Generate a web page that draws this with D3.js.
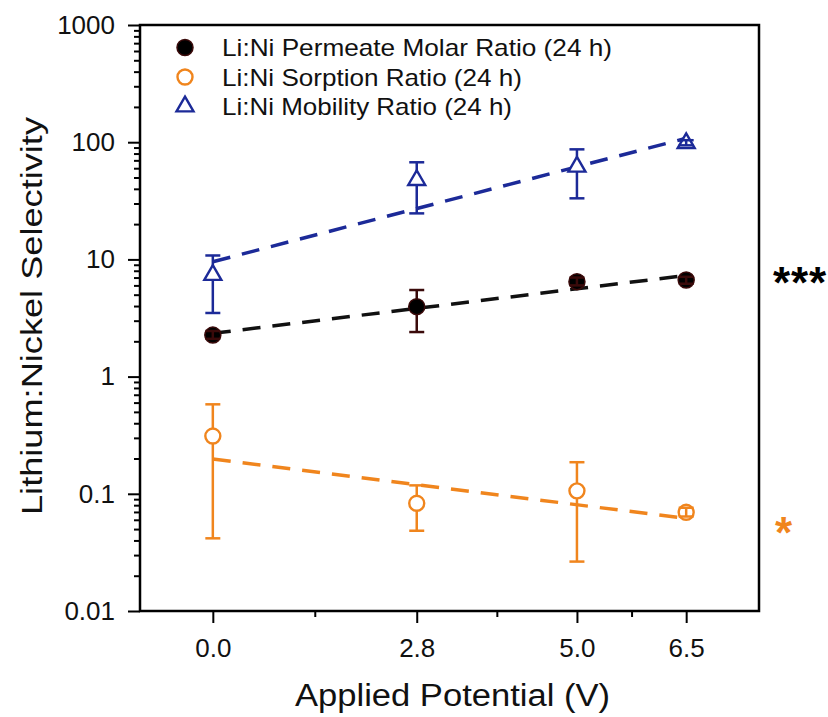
<!DOCTYPE html>
<html>
    <head>
        <title>Li:Ni Selectivity</title>
        <meta charset="UTF-8">
        <script type="text/javascript" src="https://cdn.jsdelivr.net/npm/d3@7"></script>
        <style type="text/css">
            body { margin: 0; background: #fff; }
            text { font-family: "Liberation Sans", Arial, sans-serif; }
        </style>
    </head>
    <body>
        <div id="chart"></div>

        <script type="text/javascript">

            var svgW = 828;
            var svgH = 717;

            // applied potential (V)
            var potentials = [0.0, 2.8, 5.0, 6.5];

            // Li:Ni permeate molar ratio (24 h)
            var permeate = [2.26, 3.95, 6.46, 6.67];
            var permeateLo = [2.1, 2.40, 6.0, 6.2];
            var permeateHi = [2.45, 5.48, 7.0, 7.1];

            // Li:Ni sorption ratio (24 h)
            var sorption = [0.311, 0.083, 0.106, 0.0695];
            var sorptionLo = [0.0417, 0.0484, 0.0264, 0.064];
            var sorptionHi = [0.58, 0.118, 0.186, 0.076];

            // Li:Ni mobility ratio (24 h)
            var mobility = [7.36, 47.5, 61.8, 98];
            var mobilityLo = [3.49, 24.7, 33.2, 94];
            var mobilityHi = [10.8, 67.4, 86.9, 104];

            // fitted trend lines, value at 0 V and at 6.5 V
            var fitX = [0.0, 6.5];
            var permeateFit = [2.34, 7.3];
            var sorptionFit = [0.198, 0.0616];
            var mobilityFit = [9.55, 108];

            var xMajorTicks = [0.0, 2.8, 5.0, 6.5];
            var xMinorTicks = [1.4, 3.9, 5.75];
            var yMajorTicks = [0.01, 0.1, 1, 10, 100, 1000];
            var yTickLabels = ["0.01", "0.1", "1", "10", "100", "1000"];

            var legendLabels = ["Li:Ni Permeate Molar Ratio (24 h)",
                "Li:Ni Sorption Ratio (24 h)",
                "Li:Ni Mobility Ratio (24 h)"];

            var black = "#000000", maroon = "#3a0a0a";
            var orange = "#f0851d", blue = "#1c2a98";

            // plot box (note: "top" is reserved on window)
            var pLeft = 140, pRight = 759, pTop = 25, pBottom = 611;

            var x = d3.scaleLinear().domain([-1, 7.5]).range([pLeft, pRight]);
            var y = d3.scaleLog().domain([0.01, 1000]).range([pBottom, pTop]);

            var svg = d3.select("#chart").append("svg")
                    .attr("width", svgW)
                    .attr("height", svgH)
                    .style("background", "#fff");

            ///////////////////////////////////////////////////////////////
            // axes
            ///////////////////////////////////////////////////////////////
            var yMinor = [];
            for (var e = -2; e < 3; e++) {
                for (var m = 2; m < 10; m++) {
                    yMinor.push(m * Math.pow(10, e));
                }
            }

            svg.append("g")
                    .attr("transform", "translate(" + pLeft + ",0)")
                    .call(d3.axisLeft(y).tickValues(yMinor).tickSize(6).tickFormat(""))
                    .call(function (g) { g.select(".domain").remove(); });

            svg.append("g")
                    .attr("transform", "translate(" + pLeft + ",0)")
                    .call(d3.axisLeft(y).tickValues(yMajorTicks).tickSize(12).tickPadding(13)
                            .tickFormat(function (d, i) { return yTickLabels[i]; }))
                    .call(function (g) { g.select(".domain").remove(); });

            svg.append("g")
                    .attr("transform", "translate(0," + pBottom + ")")
                    .call(d3.axisBottom(x).tickValues(xMinorTicks).tickSize(6).tickFormat(""))
                    .call(function (g) { g.select(".domain").remove(); });

            svg.append("g")
                    .attr("transform", "translate(0," + pBottom + ")")
                    .call(d3.axisBottom(x).tickValues(xMajorTicks).tickSize(12).tickPadding(16)
                            .tickFormat(d3.format(".1f")))
                    .call(function (g) { g.select(".domain").remove(); });

            svg.selectAll(".tick line").attr("stroke", "#000").attr("stroke-width", 2);
            svg.selectAll(".tick text").attr("font-size", 26).attr("fill", "#111")
                    .attr("font-family", "Liberation Sans, Arial, sans-serif");

            svg.append("rect")
                    .attr("x", pLeft).attr("y", pTop)
                    .attr("width", pRight - pLeft).attr("height", pBottom - pTop)
                    .attr("fill", "none")
                    .attr("stroke", "#000")
                    .attr("stroke-width", 2.5);

            svg.append("text")
                    .attr("x", 295).attr("y", 706)
                    .attr("font-size", 31)
                    .attr("textLength", 315)
                    .attr("lengthAdjust", "spacingAndGlyphs")
                    .attr("fill", "#111")
                    .text("Applied Potential (V)");

            svg.append("text")
                    .attr("transform", "translate(42,316) rotate(-90)")
                    .attr("text-anchor", "middle")
                    .attr("font-size", 29)
                    .attr("textLength", 398)
                    .attr("lengthAdjust", "spacingAndGlyphs")
                    .attr("fill", "#111")
                    .text("Lithium:Nickel Selectivity");

            ///////////////////////////////////////////////////////////////
            // fit lines
            ///////////////////////////////////////////////////////////////
            var line = d3.line()
                    .x(function (d) { return x(d[0]); })
                    .y(function (d) { return y(d[1]); });

            var fits = [
                {vals: mobilityFit, color: blue},
                {vals: permeateFit, color: "#111"},
                {vals: sorptionFit, color: orange}
            ];

            svg.selectAll("path.fit")
                    .data(fits)
                    .enter()
                    .append("path")
                    .attr("class", "fit")
                    .attr("d", function (d) { return line(d3.zip(fitX, d.vals)); })
                    .attr("fill", "none")
                    .attr("stroke", function (d) { return d.color; })
                    .attr("stroke-width", 3.5)
                    .attr("stroke-dasharray", "18,12");

            ///////////////////////////////////////////////////////////////
            // error bars and markers
            ///////////////////////////////////////////////////////////////
            var capW = 7.5;

            function drawBars(g, pts, barColor) {
                var bars = g.selectAll(null).data(pts).enter().append("g")
                        .attr("stroke", barColor).attr("stroke-width", 2.5).attr("fill", "none");
                bars.append("line")
                        .attr("x1", function (d) { return x(d.x); })
                        .attr("x2", function (d) { return x(d.x); })
                        .attr("y1", function (d) { return y(d.lo); })
                        .attr("y2", function (d) { return y(d.hi); });
                bars.append("line")
                        .attr("x1", function (d) { return x(d.x) - capW; })
                        .attr("x2", function (d) { return x(d.x) + capW; })
                        .attr("y1", function (d) { return y(d.lo); })
                        .attr("y2", function (d) { return y(d.lo); });
                bars.append("line")
                        .attr("x1", function (d) { return x(d.x) - capW; })
                        .attr("x2", function (d) { return x(d.x) + capW; })
                        .attr("y1", function (d) { return y(d.hi); })
                        .attr("y2", function (d) { return y(d.hi); });
            }

            function drawSeries(vals, lo, hi, barColor, drawMarker) {
                var pts = potentials.map(function (p, i) {
                    return {x: p, v: vals[i], lo: lo[i], hi: hi[i]};
                });
                var g = svg.append("g");
                // long bars sit behind the marker, short ones show through it
                var longBars = pts.filter(function (d) { return y(d.lo) - y(d.hi) > 20; });
                var shortBars = pts.filter(function (d) { return y(d.lo) - y(d.hi) <= 20; });
                drawBars(g, longBars, barColor);
                pts.forEach(function (d) {
                    drawMarker(g, x(d.x), y(d.v));
                });
                drawBars(g, shortBars, barColor);
            }

            function filledCircle(g, cx, cy) {
                g.append("circle").attr("cx", cx).attr("cy", cy).attr("r", 8)
                        .attr("fill", black).attr("stroke", maroon).attr("stroke-width", 1.5);
            }
            function openCircle(g, cx, cy) {
                g.append("circle").attr("cx", cx).attr("cy", cy).attr("r", 7.5)
                        .attr("fill", "#fff").attr("stroke", orange).attr("stroke-width", 2.4);
            }
            function openTriangle(g, cx, cy) {
                var s = 17, h = s * Math.sqrt(3) / 2;
                g.append("path")
                        .attr("d", "M" + cx + "," + (cy - h * 2 / 3) +
                                "L" + (cx + s / 2) + "," + (cy + h / 3) +
                                "L" + (cx - s / 2) + "," + (cy + h / 3) + "Z")
                        .attr("fill", "#fff").attr("stroke", blue).attr("stroke-width", 2.4);
            }

            drawSeries(sorption, sorptionLo, sorptionHi, orange, openCircle);
            drawSeries(permeate, permeateLo, permeateHi, maroon, filledCircle);
            drawSeries(mobility, mobilityLo, mobilityHi, blue, openTriangle);

            ///////////////////////////////////////////////////////////////
            // legend
            ///////////////////////////////////////////////////////////////
            var legendG = svg.append("g");
            var legendMarkers = [filledCircle, openCircle, openTriangle];
            var legendWidths = [390, 300, 290];
            legendLabels.forEach(function (lab, i) {
                var by = 56 + i * 29.5;
                legendMarkers[i](legendG, 185, by - 8.5);
                legendG.append("text")
                        .attr("x", 222).attr("y", by)
                        .attr("font-size", 24)
                        .attr("textLength", legendWidths[i])
                        .attr("lengthAdjust", "spacingAndGlyphs")
                        .attr("fill", "#111")
                        .text(lab);
            });

            ///////////////////////////////////////////////////////////////
            // significance marks
            ///////////////////////////////////////////////////////////////
            svg.append("text")
                    .attr("x", 773).attr("y", 298)
                    .attr("font-size", 44).attr("font-weight", "bold")
                    .attr("textLength", 53)
                    .attr("fill", "#000")
                    .text("***");
            svg.append("text")
                    .attr("x", 775).attr("y", 548)
                    .attr("font-size", 44).attr("font-weight", "bold")
                    .attr("fill", orange)
                    .text("*");
        </script>
    </body>
</html>
